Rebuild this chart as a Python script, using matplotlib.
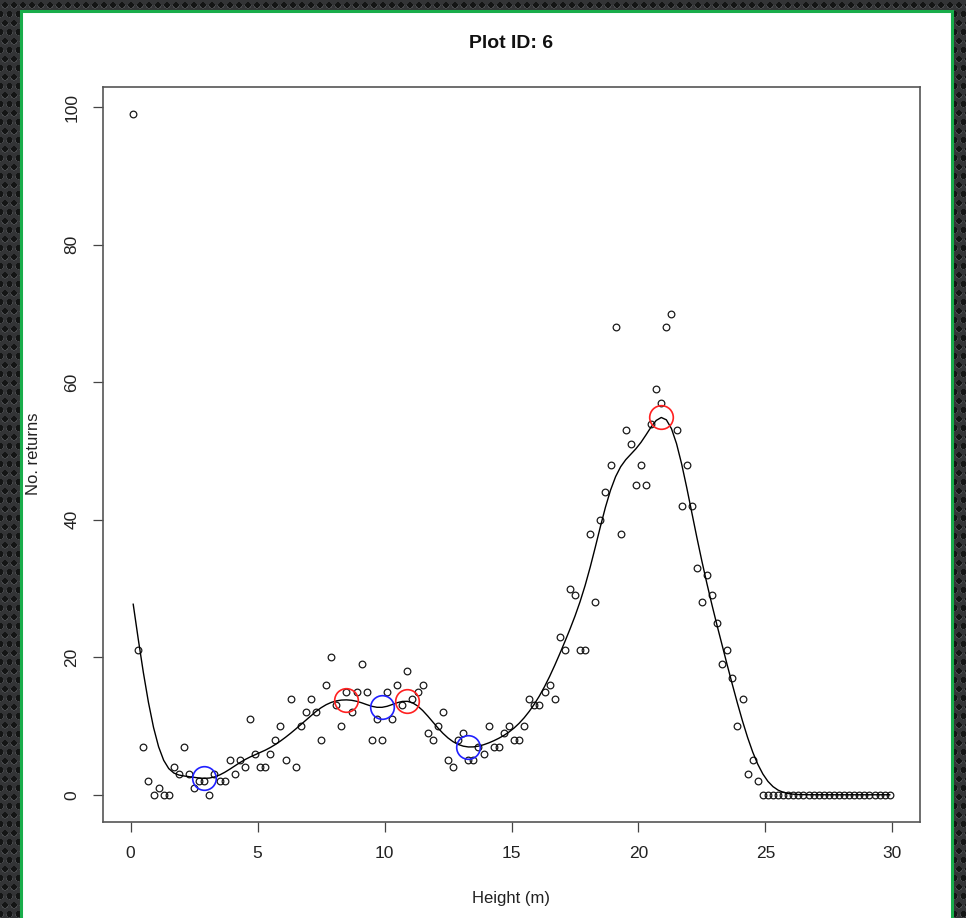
import numpy as np
import matplotlib
matplotlib.use("Agg")
import matplotlib.pyplot as plt
from matplotlib.patches import Rectangle

plt.rcParams["font.family"] = ["Liberation Sans", "DejaVu Sans"]

# returns per 0.2 m height bin (bin centres 0.1 ... 29.9)
heights = np.round(np.arange(0.1, 30.0, 0.2), 1)
returns = [99, 21, 7, 2, 0, 1, 0, 0, 4, 3,
           7, 3, 1, 2, 2, 0, 3, 2, 2, 5,
           3, 5, 4, 11, 6, 4, 4, 6, 8, 10,
           5, 14, 4, 10, 12, 14, 12, 8, 16, 20,
           13, 10, 15, 12, 15, 19, 15, 8, 11, 8,
           15, 11, 16, 13, 18, 14, 15, 16, 9, 8,
           10, 12, 5, 4, 8, 9, 5, 5, 7, 6,
           10, 7, 7, 9, 10, 8, 8, 10, 14, 13,
           13, 15, 16, 14, 23, 21, 30, 29, 21, 21,
           38, 28, 40, 44, 48, 68, 38, 53, 51, 45,
           48, 45, 54, 59, 57, 68, 70, 53, 42, 48,
           42, 33, 28, 32, 29, 25, 19, 21, 17, 10,
           14, 3, 5, 2, 0, 0, 0, 0, 0, 0,
           0, 0, 0, 0, 0, 0, 0, 0, 0, 0,
           0, 0, 0, 0, 0, 0, 0, 0, 0, 0]

# local maxima / minima of the smoothed profile
peak_heights = [8.5, 10.9, 20.9]
valley_heights = [2.9, 9.9, 13.3]

x_ticks = [0, 5, 10, 15, 20, 25, 30]
y_ticks = [0, 20, 40, 60, 80, 100]


def kernel_smooth(x, y, sd=0.65):
    x = np.asarray(x, float)
    y = np.asarray(y, float)
    w = np.exp(-0.5 * ((x[:, None] - x[None, :]) / sd) ** 2)
    return (w @ y) / w.sum(axis=1)


W, H = 966, 918
fig = plt.figure(figsize=(W / 100, H / 100), dpi=100)
fig.patch.set_facecolor("#2a2c2e")

# dotted dark backdrop of the screenshot
yy, xx = np.mgrid[0:H, 0:W]
row = yy // 9
cx = (xx + (row % 2) * 4.5) % 9 - 4.5
cy = yy % 9 - 4.5
d = np.sqrt(cx ** 2 + cy ** 2)
tex = np.full((H, W), 0.2)
tex[d < 2.8] = 0.08
tex[(d >= 2.8) & (d < 3.6) & (cy > 0)] = 0.28
img = np.dstack([tex, tex * 1.03, tex * 1.06])
fig.figimage(np.clip(img, 0, 1), 0, 0, zorder=-3, origin="upper")

panel = Rectangle((21 / W, -0.01), 931 / W, 1.01 - 11 / H, transform=fig.transFigure,
                  facecolor="white", edgecolor="#19ad4b", linewidth=2.2, zorder=-2)
fig.patches.append(panel)

ax = fig.add_axes([103 / W, 1 - 822 / H, 817 / W, 735 / H])
ax.set_facecolor("white")

smooth = kernel_smooth(heights, returns)
ax.plot(heights, returns, "o", mfc="none", mec="#1a1a1a", ms=4.8, mew=0.9)
ax.plot(heights, smooth, color="black", lw=1.0)
ax.plot(peak_heights, np.interp(peak_heights, heights, smooth), "o",
        mfc="none", mec="#ff2020", ms=17, mew=1.2)
ax.plot(valley_heights, np.interp(valley_heights, heights, smooth), "o",
        mfc="none", mec="#2020ff", ms=17, mew=1.2)

ax.set_xlim(-1.09, 31.09)
ax.set_ylim(-3.96, 102.96)
ax.set_xticks(x_ticks)
ax.set_yticks(y_ticks)
ax.set_yticklabels([str(v) for v in y_ticks], rotation=90, va="center")
ax.tick_params(length=7, width=0.9, color="#444444", labelsize=12.5, pad=10,
               labelcolor="#222222")
for s in ax.spines.values():
    s.set_color("#555555")
    s.set_linewidth(1.2)

fig.text(511 / W, 1 - 43 / H, "Plot ID: 6", ha="center", va="center",
         fontsize=14, fontweight="bold", color="#111111")
fig.text(511 / W, 1 - 898 / H, "Height (m)", ha="center", va="center",
         fontsize=12, color="#222222")
fig.text(33 / W, 1 - 454 / H, "No. returns", ha="center", va="center",
         rotation=90, fontsize=12, color="#222222")

fig.savefig("out.png", dpi=100, facecolor=fig.get_facecolor())
